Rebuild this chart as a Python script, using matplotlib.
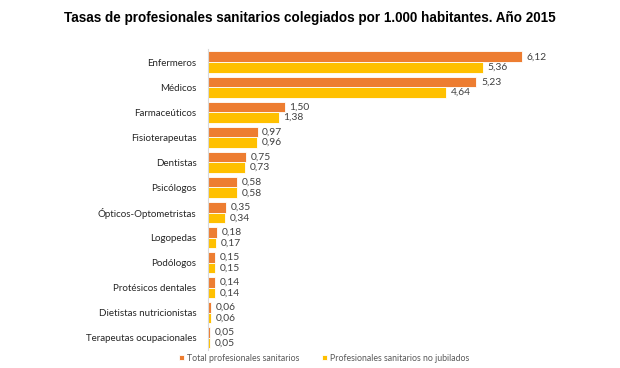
import matplotlib
matplotlib.use("Agg")
import matplotlib.pyplot as plt
import numpy as np

categories = ["Enfermeros", "Médicos", "Farmaceúticos", "Fisioterapeutas", "Dentistas",
              "Psicólogos", "Ópticos-Optometristas", "Logopedas", "Podólogos",
              "Protésicos dentales", "Dietistas nutricionistas", "Terapeutas ocupacionales"]
total = [6.12, 5.23, 1.50, 0.97, 0.75, 0.58, 0.35, 0.18, 0.15, 0.14, 0.06, 0.05]
no_jubilados = [5.36, 4.64, 1.38, 0.96, 0.73, 0.58, 0.34, 0.17, 0.15, 0.14, 0.06, 0.05]
series_names = ["Total profesionales sanitarios", "Profesionales sanitarios no jubilados"]

c_orange = "#ED7D31"
c_yellow = "#FFC000"
txt = "#404040"
font = "Lato"

fig = plt.figure(figsize=(6.2, 3.68), dpi=100)
ax = fig.add_axes([0.335, 0.0476, 0.58, 0.818])

y = np.arange(len(categories))
h = 0.42
b1 = ax.barh(y - h / 2, total, height=h, color=c_orange, edgecolor="white", linewidth=0.6,
             label=series_names[0])
b2 = ax.barh(y + h / 2, no_jubilados, height=h, color=c_yellow, edgecolor="white", linewidth=0.6,
             label=series_names[1])

for yy, v in zip(y - h / 2, total):
    ax.text(v + 0.09, yy, f"{v:.2f}".replace(".", ","), va="center", ha="left",
            fontsize=7.4, color=txt, family=font)
for yy, v in zip(y + h / 2, no_jubilados):
    ax.text(v + 0.09, yy, f"{v:.2f}".replace(".", ","), va="center", ha="left",
            fontsize=7.4, color=txt, family=font)

ax.set_xlim(0, 7)
ax.set_ylim(len(categories) - 0.5, -0.5)
ax.set_yticks(y)
ax.set_yticklabels(categories, fontsize=7.0, color="#262626", family=font)
ax.tick_params(axis="y", length=0, pad=8)
ax.set_xticks([])
for s in ["top", "right", "bottom"]:
    ax.spines[s].set_visible(False)
ax.spines["left"].set_color("#D9D9D9")
ax.spines["left"].set_linewidth(0.8)

fig.text(0.5, 0.952, "Tasas de profesionales sanitarios colegiados por 1.000 habitantes. Año 2015",
         ha="center", va="center", fontsize=9.75, fontweight="bold", family="Liberation Sans",
         color="black")

leg = fig.legend(handles=[b1, b2], labels=series_names, loc="center", bbox_to_anchor=(0.523, 0.027),
                 ncol=2, frameon=False, handlelength=0.6, handleheight=0.6,
                 handletextpad=0.3, columnspacing=2.6, prop={"family": font, "size": 6.3})
for t in leg.get_texts():
    t.set_color("#595959")

fig.savefig("out.png", dpi=100)
